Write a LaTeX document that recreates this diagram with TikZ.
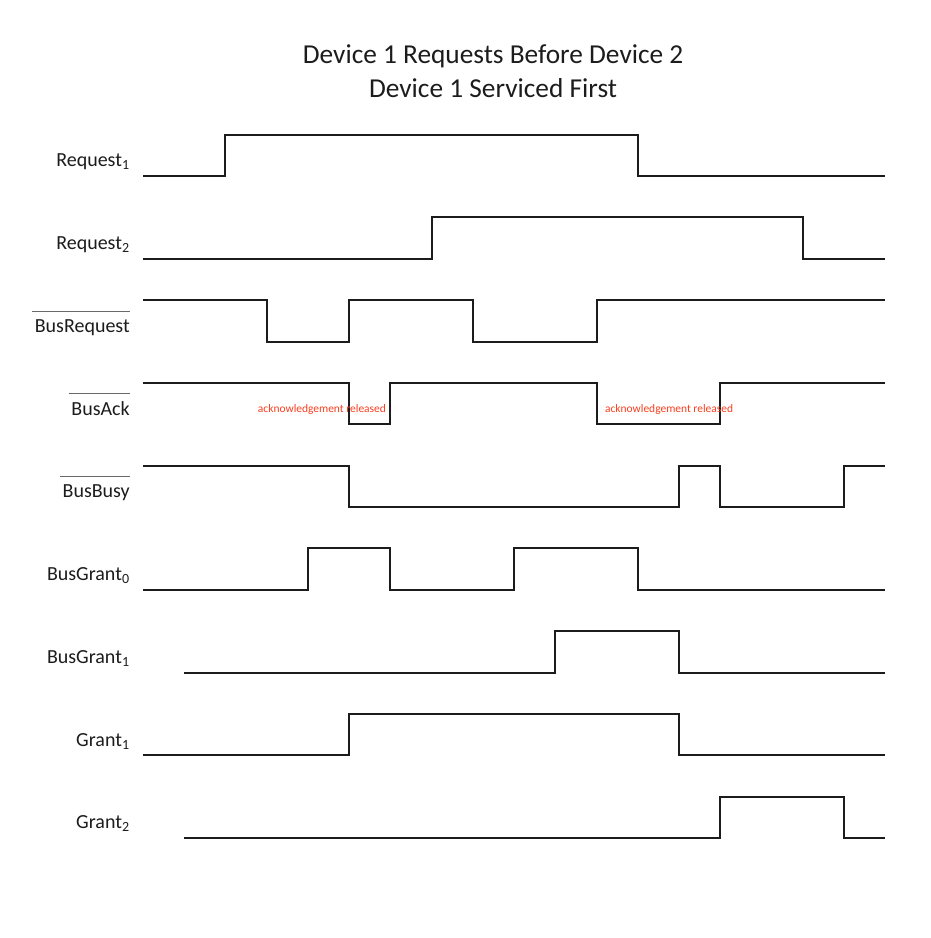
\documentclass[tikz,border=0pt]{standalone}
\usepackage{fontspec}
\setmainfont{Carlito}
\usetikzlibrary{positioning}
\definecolor{waveline}{RGB}{28, 28, 28}
\definecolor{bargray}{RGB}{105, 105, 105}
\definecolor{notered}{RGB}{250, 62, 30}

\begin{document}
\begin{tikzpicture}[x=30.92pt, y=31.03pt,
  wave/.style={line width=1.5pt, waveline},
  negbar/.style={line width=0.8pt, bargray},
  siglabel/.style={anchor=base east, inner sep=0pt, text=waveline, font=\fontsize{15}{18}\selectfont},
  relnote/.style={inner sep=0pt, text=notered, font=\fontsize{8.6}{10}\selectfont}]
  \useasboundingbox (-3.469, 4.254) rectangle (19.092, -18.417);

  % Title
  \node[align=center, inner sep=0pt, text=waveline, font=\fontsize{20.5}{25.5}\selectfont] (title) at (8.49, 2.538) {
    Device 1 Requests Before Device 2\\
    Device 1 Serviced First
  };

  % Signal names
  \node[siglabel] (lreq1) at (-0.315, 0.22) {Request\textsubscript{1}};
  \node[siglabel] (lreq2) at (-0.315, -1.78) {Request\textsubscript{2}};
  \node[siglabel] (lbreq) at (-0.315, -3.78) {BusRequest};
  \node[siglabel] (lback) at (-0.315, -5.78) {BusAck};
  \node[siglabel] (lbbusy) at (-0.315, -7.78) {BusBusy};
  \node[siglabel] (lbg0) at (-0.315, -9.78) {BusGrant\textsubscript{0}};
  \node[siglabel] (lbg1) at (-0.315, -11.78) {BusGrant\textsubscript{1}};
  \node[siglabel] (lgr1) at (-0.315, -13.78) {Grant\textsubscript{1}};
  \node[siglabel] (lgr2) at (-0.315, -15.78) {Grant\textsubscript{2}};

  % Bars over the active-low names
  \foreach \lab in {lbreq, lback, lbbusy}
    \draw[negbar] ([shift={(-2pt,16pt)}]\lab.base west) -- ([yshift=16pt]\lab.base east);

  % Waveforms
  \draw[wave] (0,0) -- (2,0) -- (2,1) -- (12,1) -- (12,0) -- (18,0);
  \draw[wave] (0,-2) -- (7,-2) -- (7,-1) -- (16,-1) -- (16,-2) -- (18,-2);
  \draw[wave] (0,-3) -- (3,-3) -- (3,-4) -- (5,-4) -- (5,-3) -- (8,-3) -- (8,-4) -- (11,-4) -- (11,-3) -- (18,-3);
  \draw[wave] (0,-5) -- (5,-5) -- (5,-6) -- (6,-6) -- (6,-5) -- (11,-5) -- (11,-6) -- (14,-6) -- (14,-5) -- (18,-5);
  \draw[wave] (0,-7) -- (5,-7) -- (5,-8) -- (13,-8) -- (13,-7) -- (14,-7) -- (14,-8) -- (17,-8) -- (17,-7) -- (18,-7);
  \draw[wave] (0,-10) -- (4,-10) -- (4,-9) -- (6,-9) -- (6,-10) -- (9,-10) -- (9,-9) -- (12,-9) -- (12,-10) -- (18,-10);
  \draw[wave] (1,-12) -- (10,-12) -- (10,-11) -- (13,-11) -- (13,-12) -- (18,-12);
  \draw[wave] (0,-14) -- (5,-14) -- (5,-13) -- (13,-13) -- (13,-14) -- (18,-14);
  \draw[wave] (1,-16) -- (14,-16) -- (14,-15) -- (17,-15) -- (17,-16) -- (18,-16);

  % Notes on BusAck
  \node[relnote] (ackrel1) at (4.34, -5.637) {acknowledgement released};
  \node[relnote] (ackrel2) at (12.76, -5.637) {acknowledgement released};
\end{tikzpicture}
\end{document}
